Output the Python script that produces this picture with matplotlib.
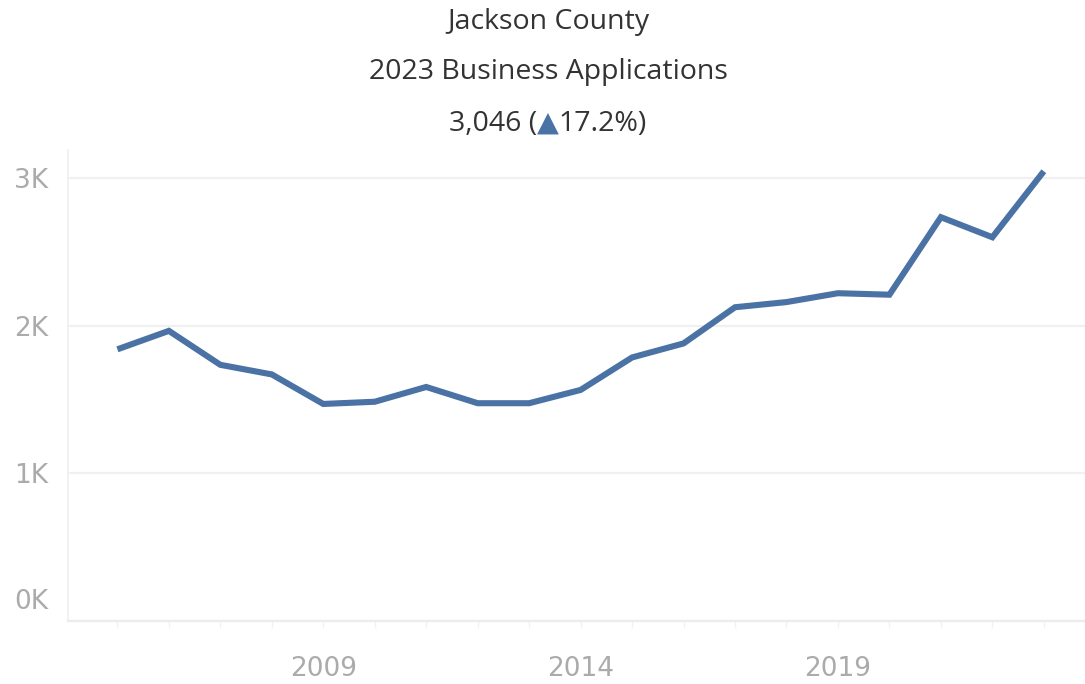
import matplotlib.pyplot as plt
from matplotlib.transforms import ScaledTranslation

years = list(range(2005, 2024))
applications = [1840, 1965, 1735, 1670, 1470, 1485, 1585, 1475, 1475, 1565,
                1785, 1880, 2125, 2160, 2220, 2210, 2735, 2599, 3046]
y_ticks = [0, 1000, 2000, 3000]
y_labels = ['0K', '1K', '2K', '3K']
x_labels = [2009, 2014, 2019]

line_color = '#4a72a4'
text_color = '#333333'
tick_color = '#ababab'
grid_color = '#f0f0f0'

plt.rcParams['font.family'] = ['DejaVu Sans']

fig = plt.figure(figsize=(10.85, 6.84), dpi=100)
ax = fig.add_axes([68 / 1085, 1 - 621 / 684, 1 - 68 / 1085, (621 - 150) / 684])

ax.plot(years, applications, color=line_color, lw=4.4, solid_joinstyle='miter',
        solid_capstyle='butt')

ax.set_xlim(2004.04, 2023.8)
ax.set_ylim(0, 3190)

# gridlines
ax.set_yticks(y_ticks)
ax.set_yticklabels(y_labels)
ax.grid(axis='y', color=grid_color, lw=1.6)
ax.set_axisbelow(True)

for s in ['top', 'right']:
    ax.spines[s].set_visible(False)
ax.spines['left'].set_color('#efefef')
ax.spines['left'].set_linewidth(1.2)
ax.spines['bottom'].set_color('#ececec')
ax.spines['bottom'].set_linewidth(1.6)

ax.tick_params(axis='y', length=0, pad=14, labelsize=19, labelcolor=tick_color)
ax.set_xticks(x_labels)
ax.set_xticklabels([str(x) for x in x_labels])
ax.set_xticks(years, minor=True)
ax.tick_params(axis='x', which='both', length=5, color='#f2f2f2', width=1)
ax.tick_params(axis='x', which='major', pad=20, labelsize=19, labelcolor=tick_color)

# the 0K label sits above the axis line
lbl0 = ax.get_yticklabels()[0]
lbl0.set_transform(lbl0.get_transform() + ScaledTranslation(0, 0.22, fig.dpi_scale_trans))

# title lines
tsize = 20.5
tfont = dict(fontsize=tsize, color=text_color, ha='center', va='center',
             family=['Open Sans', 'DejaVu Sans'])
fig.text(548 / 1085, 1 - 22 / 684, 'Jackson County', **tfont)
fig.text(548 / 1085, 1 - 72 / 684, '2023 Business Applications', **tfont)

# third line with a blue triangle
parts = [('3,046 (', text_color), ('\u25b2', line_color), ('17.2%)', text_color)]
fig.canvas.draw()
r = fig.canvas.get_renderer()
texts = []
for s, c in parts:
    t = fig.text(0, 1 - 124 / 684, s, fontsize=tsize, color=c, ha='left', va='center',
                 family=['Open Sans', 'DejaVu Sans'])
    texts.append(t)
widths = [t.get_window_extent(r).width for t in texts]
x0 = 548 - sum(widths) / 2
for t, w in zip(texts, widths):
    t.set_x(x0 / 1085)
    x0 += w

fig.savefig('out.png', dpi=100, facecolor='white')
